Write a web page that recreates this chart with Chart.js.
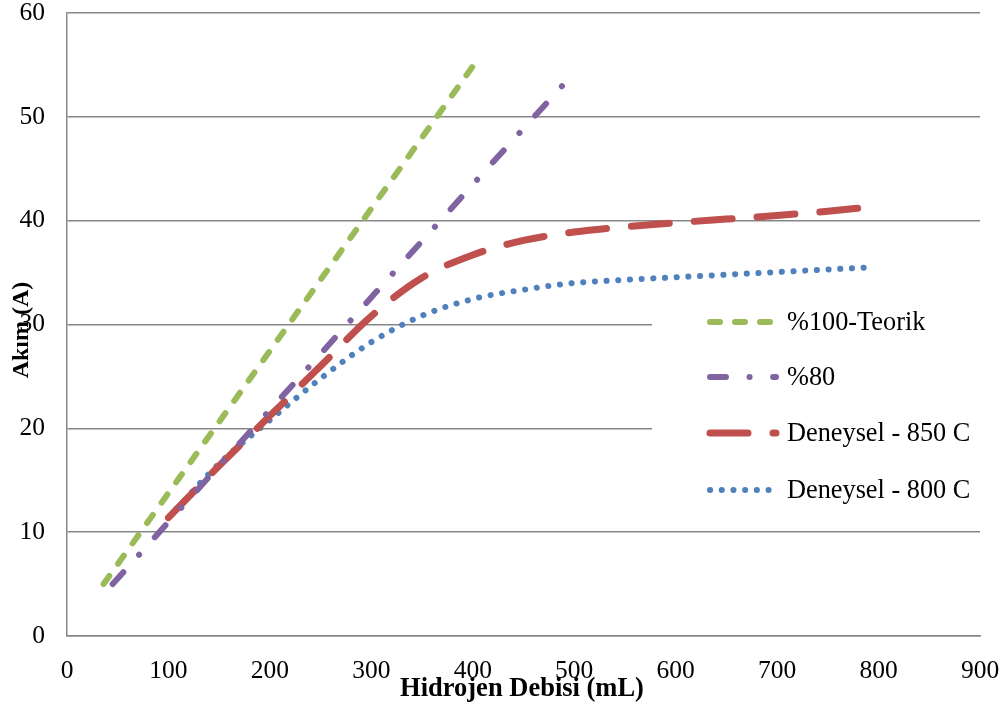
<!DOCTYPE html>
<html>
<head>
<meta charset="utf-8">
<script src="https://cdn.jsdelivr.net/npm/chart.js@4.4.1/dist/chart.umd.min.js"></script>
<style>
  html, body { margin: 0; padding: 0; background: #fff; }
  #wrap { width: 1004px; height: 708px; position: relative; }
</style>
</head>
<body>
<div id="wrap"><canvas id="akimChart"></canvas></div>
<script>
// values
const teorikX = [36, 109, 182, 255, 328, 401];
const teorikY = [5, 15, 25, 35, 45, 55];

const yuzde80X = [45, 137, 230, 322, 414, 493];
const yuzde80Y = [5, 15, 25, 35, 45, 53.5];

const deney850X = [100, 150, 200, 250, 300, 350, 400, 450, 500, 550, 600, 650, 700, 750, 790];
const deney850Y = [11.4, 16.4, 21.2, 26.0, 30.8, 34.5, 36.7, 38.1, 38.9, 39.4, 39.8, 40.15, 40.5, 40.9, 41.3];

const deney800X = [100, 150, 200, 250, 300, 350, 400, 450, 500, 550, 600, 650, 700, 750, 790];
const deney800Y = [11.4, 16.6, 20.8, 24.8, 28.3, 30.85, 32.45, 33.35, 34.0, 34.3, 34.55, 34.8, 35.05, 35.3, 35.5];

const xTicks = [0, 100, 200, 300, 400, 500, 600, 700, 800, 900];
const yTicks = [0, 10, 20, 30, 40, 50, 60];

const seriesNames = ['%100-Teorik', '%80', 'Deneysel - 850 C', 'Deneysel - 800 C'];

const toPoints = (xs, ys) => xs.map((x, i) => ({ x: x, y: ys[i] }));

const serif = "'Liberation Serif', 'Times New Roman', serif";
const gridGrey = '#878787';

// legend drawn inside the plot, over a white box, like the original
const insideLegend = {
    id: 'insideLegend',
    beforeDatasetsDraw(chart) {
        const ctx = chart.ctx;
        const a = chart.chartArea;
        ctx.save();
        ctx.fillStyle = '#fff';
        ctx.fillRect(652, 296, a.right - 652 + 1, 220);
        ctx.restore();
    },
    afterDraw(chart) {
        const ctx = chart.ctx;
        const rows = [322, 377, 433, 490];
        ctx.save();
        chart.data.datasets.forEach((ds, i) => {
            const y = rows[i];
            ctx.beginPath();
            ctx.strokeStyle = ds.borderColor;
            ctx.lineWidth = ds.borderWidth;
            ctx.lineCap = 'round';
            ctx.setLineDash(ds.borderDash);
            ctx.moveTo(710, y);
            ctx.lineTo(776, y);
            ctx.stroke();
            ctx.setLineDash([]);
            ctx.fillStyle = '#000';
            ctx.font = '26.3px ' + serif;
            ctx.textBaseline = 'middle';
            ctx.textAlign = 'left';
            ctx.fillText(ds.label, 787, y + 1);
        });

        // axis titles sit over the tick labels in the original
        ctx.fillStyle = '#000';
        ctx.textAlign = 'center';
        ctx.textBaseline = 'middle';
        ctx.font = 'bold 26.5px ' + serif;
        ctx.fillText('Hidrojen Debisi (mL)', 522, 689);
        ctx.font = 'bold 24px ' + serif;
        ctx.translate(22, 330);
        ctx.rotate(-Math.PI / 2);
        ctx.fillText('Akım (A)', 0, 0);
        ctx.restore();
    }
};

const lineStyle = (color, width, dash) => ({
    borderColor: color,
    backgroundColor: color,
    borderWidth: width,
    borderDash: dash,
    borderCapStyle: 'round',
    borderJoinStyle: 'round',
    pointRadius: 0,
    fill: false
});

new Chart(document.getElementById('akimChart'), {
    type: 'line',
    data: {
        datasets: [
            Object.assign({ label: seriesNames[0], data: toPoints(teorikX, teorikY) },
                lineStyle('#9BBB59', 6, [10, 15])),
            Object.assign({ label: seriesNames[1], data: toPoints(yuzde80X, yuzde80Y) },
                lineStyle('#8064A2', 6, [16, 23.5, 0.1, 23.5])),
            Object.assign({ label: seriesNames[2], data: toPoints(deney850X, deney850Y), cubicInterpolationMode: 'monotone' },
                lineStyle('#C0504D', 7, [38, 25])),
            Object.assign({ label: seriesNames[3], data: toPoints(deney800X, deney800Y), cubicInterpolationMode: 'monotone' },
                lineStyle('#4F81BD', 6, [0.1, 11.6]))
        ]
    },
    options: {
        responsive: true,
        maintainAspectRatio: false,
        animation: false,
        layout: { padding: { left: 0, right: 24, top: 13, bottom: 0 } },
        plugins: {
            legend: { display: false },
            tooltip: { enabled: false }
        },
        scales: {
            x: {
                type: 'linear',
                min: 0,
                max: 900,
                afterBuildTicks: s => { s.ticks = xTicks.map(v => ({ value: v })); },
                afterFit: s => { s.height = 72; s.paddingLeft = 0; s.paddingRight = 0; },
                grid: { display: false },
                border: { display: true, color: gridGrey, width: 1.5 },
                ticks: {
                    color: '#000',
                    padding: 15,
                    maxRotation: 0,
                    font: { family: serif, size: 25.5, lineHeight: 1 }
                }
            },
            y: {
                min: 0,
                max: 60,
                afterBuildTicks: s => { s.ticks = yTicks.map(v => ({ value: v })); },
                afterFit: s => { s.width = 67; s.paddingTop = 0; s.paddingBottom = 0; },
                grid: { color: gridGrey, lineWidth: 1.5, drawTicks: false },
                border: { display: true, color: gridGrey, width: 1.5 },
                ticks: {
                    color: '#000',
                    padding: 22,
                    font: { family: serif, size: 25.5, lineHeight: 1 }
                }
            }
        }
    },
    plugins: [insideLegend]
});
</script>
</body>
</html>
